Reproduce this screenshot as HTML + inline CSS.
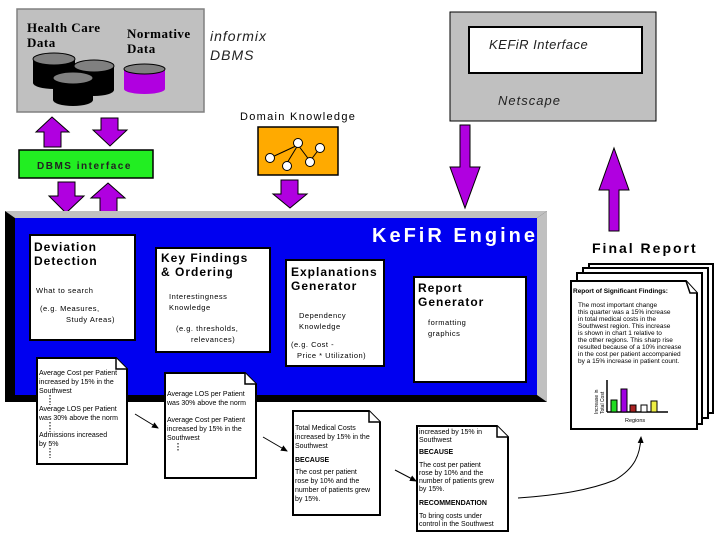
<!DOCTYPE html>
<html><head><meta charset="utf-8"><style>
html,body{margin:0;padding:0;background:#fff;}
svg{display:block;}
text{font-family:"Liberation Sans",sans-serif;}
.s{font-family:"Liberation Serif",serif;}
</style></head><body>
<svg width="720" height="540" viewBox="0 0 720 540" xmlns="http://www.w3.org/2000/svg">
<defs>
<marker id="ah" markerWidth="8" markerHeight="8" refX="6" refY="4" orient="auto"><path d="M0,1 L7,4 L0,7 z" fill="#000"/></marker>
</defs>
<rect x="17" y="9" width="187" height="103" fill="#c0c0c0" stroke="#808080" stroke-width="1.5"/>
<text class="s" x="27" y="32" font-size="13" font-weight="bold" letter-spacing="0.5">Health Care</text>
<text class="s" x="27" y="47" font-size="13" font-weight="bold" letter-spacing="0.5">Data</text>
<text class="s" x="127" y="38" font-size="13" font-weight="bold" letter-spacing="0.5">Normative</text>
<text class="s" x="127" y="53" font-size="13" font-weight="bold" letter-spacing="0.5">Data</text>
<g>
<rect x="33" y="59" width="42" height="24" fill="#000"/><ellipse cx="54" cy="83" rx="21" ry="6" fill="#000"/><ellipse cx="54" cy="59" rx="21" ry="6" fill="#808080" stroke="#000"/>
<rect x="74" y="66" width="40" height="24" fill="#000"/><ellipse cx="94" cy="90" rx="20" ry="6" fill="#000"/><ellipse cx="94" cy="66" rx="20" ry="6" fill="#808080" stroke="#000"/>
<rect x="53" y="78" width="40" height="22" fill="#000"/><ellipse cx="73" cy="100" rx="20" ry="6" fill="#000"/><ellipse cx="73" cy="78" rx="20" ry="6" fill="#808080" stroke="#000"/>
<rect x="124" y="69" width="41" height="20" fill="#b000e0"/><ellipse cx="144.5" cy="89" rx="20.5" ry="5" fill="#b000e0"/><ellipse cx="144.5" cy="69" rx="20.5" ry="5" fill="#808080" stroke="#000"/>
</g>
<text x="210" y="41" font-size="14" font-style="italic" fill="#222" letter-spacing="1">informix</text>
<text x="210" y="60" font-size="14" font-style="italic" fill="#222" letter-spacing="1">DBMS</text>
<g fill="#b000e0" stroke="#000" stroke-width="1">
<path d="M52,117 L69,132 L61,132 L61,147 L44,147 L44,132 L36,132 Z"/>
<path d="M101,118 L118,118 L118,130 L127,130 L110,146 L93,130 L101,130 Z"/>
<path d="M58,182 L75,182 L75,196 L84,196 L66,213 L49,196 L58,196 Z"/>
<path d="M108,183 L125,198 L117,198 L117,213 L100,213 L100,198 L91,198 Z"/>
<path d="M281,180 L298,180 L298,194 L307,194 L290,208 L273,194 L281,194 Z"/>
<path d="M460,125 L470,125 L470,167 L480,167 L465,208 L450,167 L460,167 Z"/>
<path d="M614,148 L629,190 L619,190 L619,231 L609,231 L609,190 L599,190 Z"/>
</g>
<rect x="19" y="150" width="134" height="28" fill="#22ee22" stroke="#000" stroke-width="1.5"/>
<text x="37" y="169" font-size="10" font-weight="bold" letter-spacing="1.5" fill="#222">DBMS  interface</text>
<text x="240" y="120" font-size="11" letter-spacing="1.3">Domain Knowledge</text>
<rect x="258" y="127" width="80" height="48" fill="#ffaa00" stroke="#000" stroke-width="1.5"/>
<g stroke="#000" stroke-width="1" fill="#fff">
<line x1="270" y1="158" x2="298" y2="145"/><line x1="298" y1="145" x2="287" y2="163"/><line x1="298" y1="145" x2="310" y2="161"/><line x1="310" y1="161" x2="320" y2="148"/>
<circle cx="270" cy="158" r="4.5"/><circle cx="298" cy="143" r="4.5"/><circle cx="287" cy="166" r="4.5"/><circle cx="310" cy="162" r="4.5"/><circle cx="320" cy="148" r="4.5"/>
</g>
<rect x="450" y="12" width="206" height="109" fill="#c0c0c0" stroke="#000" stroke-width="1"/>
<rect x="469" y="27" width="173" height="46" fill="#fff" stroke="#000" stroke-width="2"/>
<text x="489" y="49" font-size="13" font-style="italic" fill="#222" letter-spacing="0.5">KEFiR Interface</text>
<text x="498" y="105" font-size="13" font-style="italic" fill="#222" letter-spacing="1">Netscape</text>
<rect x="5" y="211" width="542" height="191" fill="#000"/>
<polygon points="5,211 547,211 537,218 15,218" fill="#c0c0c0"/>
<polygon points="547,211 547,402 537,395 537,218" fill="#c0c0c0"/>
<rect x="15" y="218" width="522" height="177" fill="#0000f0"/>
<text x="372" y="242" font-size="20" font-weight="bold" fill="#fff" letter-spacing="3">KeFiR Engine</text>
<g fill="#fff" stroke="#000" stroke-width="2">
<rect x="30" y="235" width="105" height="105"/>
<rect x="156" y="248" width="114" height="104"/>
<rect x="286" y="260" width="98" height="106"/>
<rect x="414" y="277" width="112" height="105"/>
</g>
<g font-weight="bold" font-size="12" letter-spacing="1">
<text x="34" y="251">Deviation</text><text x="34" y="265">Detection</text>
<text x="161" y="262">Key Findings</text><text x="161" y="276">&amp; Ordering</text>
<text x="291" y="276">Explanations</text><text x="291" y="290">Generator</text>
<text x="418" y="292">Report</text><text x="418" y="306">Generator</text>
</g>
<g font-size="7.5" letter-spacing="0.5">
<text x="36" y="293">What to search</text>
<text x="40" y="311">(e.g. Measures,</text><text x="66" y="322">Study Areas)</text>
<text x="169" y="299">Interestingness</text><text x="169" y="310">Knowledge</text>
<text x="176" y="331">(e.g. thresholds,</text><text x="191" y="342">relevances)</text>
<text x="299" y="318">Dependency</text><text x="299" y="329">Knowledge</text>
<text x="291" y="347">(e.g. Cost -</text><text x="297" y="358">Price * Utilization)</text>
<text x="428" y="325">formatting</text><text x="428" y="336">graphics</text>
</g>
<g fill="#fff" stroke="#000" stroke-width="2">
<path d="M37,358 L116,358 L127,369 L127,464 L37,464 Z"/>
<path d="M165,373 L245,373 L256,384 L256,478 L165,478 Z"/>
<path d="M293,411 L369,411 L380,422 L380,515 L293,515 Z"/>
<path d="M417,426 L497,426 L508,437 L508,531 L417,531 Z"/>
</g>
<g stroke="#000" fill="#fff" stroke-width="1.5">
<path d="M116,358 L116,369 L127,369"/><path d="M245,373 L245,384 L256,384"/><path d="M369,411 L369,422 L380,422"/><path d="M497,426 L497,437 L508,437"/>
</g>
<g class="s" font-size="7" font-family="Liberation Serif,serif">
<text x="39" y="375">Average Cost per Patient</text><text x="39" y="384">increased by 15% in the</text><text x="39" y="393">Southwest</text>
<text x="39" y="411">Average LOS per Patient</text><text x="39" y="420">was 30% above the norm</text>
<text x="39" y="437">Admissions increased</text><text x="39" y="446">by 5%</text>
<text x="167" y="396">Average LOS per Patient</text><text x="167" y="405">was 30% above the norm</text>
<text x="167" y="422">Average Cost per Patient</text><text x="167" y="431">increased by 15% in the</text><text x="167" y="440">Southwest</text>
<text x="295" y="430">Total Medical Costs</text><text x="295" y="439">increased by 15% in the</text><text x="295" y="448">Southwest</text>
<text x="295" y="462" font-weight="bold">BECAUSE</text>
<text x="295" y="474">The cost per patient</text><text x="295" y="483">rose by 10% and the</text><text x="295" y="492">number of patients grew</text><text x="295" y="501">by 15%.</text>
<text x="419" y="434">increased by 15% in</text><text x="419" y="442">Southwest</text>
<text x="419" y="454" font-weight="bold">BECAUSE</text>
<text x="419" y="467">The cost per patient</text><text x="419" y="475">rose by 10% and the</text><text x="419" y="483">number of patients grew</text><text x="419" y="491">by 15%.</text>
<text x="419" y="505" font-weight="bold">RECOMMENDATION</text>
<text x="419" y="518">To bring costs under</text><text x="419" y="526">control in the Southwest</text>
</g>
<g stroke="#000" stroke-width="1" stroke-dasharray="1.5,1.5">
<line x1="50" y1="395" x2="50" y2="405"/><line x1="50" y1="422" x2="50" y2="432"/><line x1="50" y1="448" x2="50" y2="458"/>
<line x1="178" y1="443" x2="178" y2="452"/>
</g>
<g stroke="#000" stroke-width="1" fill="none" marker-end="url(#ah)">
<line x1="135" y1="414" x2="158" y2="428"/>
<line x1="263" y1="437" x2="287" y2="451"/>
<line x1="395" y1="470" x2="416" y2="481"/>
<path d="M518,498 C560,495 590,490 615,480 C635,468 640,455 641,437"/>
</g>
<text x="592" y="253" font-size="14" font-weight="bold" letter-spacing="2">Final Report</text>
<g fill="#fff" stroke="#000" stroke-width="2">
<rect x="589" y="264" width="124" height="149"/>
<rect x="583" y="268" width="125" height="150"/>
<rect x="577" y="273" width="125" height="151"/>
<path d="M571,281 L686,281 L697,293 L697,429 L571,429 Z"/>
<path d="M686,281 L690,293 L697,293" stroke-width="1.5"/>
</g>
<g font-family="Liberation Serif,serif" font-size="6.5">
<text x="573" y="293" font-weight="bold">Report of Significant Findings:</text>
<text x="578" y="307">The most important change</text><text x="578" y="314">this quarter was a 15% increase</text><text x="578" y="321">in total medical costs in the</text><text x="578" y="328">Southwest region. This increase</text><text x="578" y="335">is shown in chart 1 relative to</text><text x="578" y="342">the other regions. This sharp rise</text><text x="578" y="349">resulted because of a 10% increase</text><text x="578" y="356">in the cost per patient accompanied</text><text x="578" y="363">by a 15% increase in patient count.</text>
<text x="625" y="422" font-size="5.5">Regions</text>
</g>
<text transform="translate(598,414) rotate(-90)" font-size="5" font-family="Liberation Serif,serif">Increase in</text>
<text transform="translate(604,414) rotate(-90)" font-size="5" font-family="Liberation Serif,serif">Total Cost</text>
<line x1="607" y1="380" x2="607" y2="412" stroke="#000" stroke-width="1.5"/>
<line x1="607" y1="412" x2="668" y2="412" stroke="#000" stroke-width="1.5"/>
<g stroke="#000" stroke-width="1">
<rect x="611" y="400" width="6" height="12" fill="#22dd22"/>
<rect x="621" y="389" width="6" height="23" fill="#a000e0"/>
<rect x="630" y="405" width="6" height="7" fill="#aa2222"/>
<rect x="641" y="405" width="6" height="7" fill="#fff"/>
<rect x="651" y="401" width="6" height="11" fill="#eeee44"/>
</g>
</svg>
</body></html>
